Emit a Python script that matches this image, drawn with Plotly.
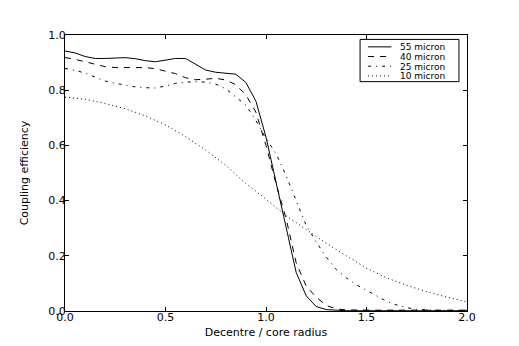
import plotly.graph_objects as go

# decentre / core radius
x_fine = [0.0, 0.05, 0.1, 0.15, 0.2, 0.25, 0.3, 0.35, 0.4, 0.45, 0.5, 0.55, 0.6, 0.65,
          0.7, 0.75, 0.8, 0.85, 0.9, 0.95, 1.0, 1.05, 1.1, 1.15, 1.2, 1.25, 1.3, 1.35,
          1.4, 1.45, 1.5, 1.55, 1.6, 1.65, 1.7, 1.75, 1.8, 1.85, 1.9, 1.95, 2.0]
x_coarse = [0.0, 0.1, 0.2, 0.3, 0.4, 0.5, 0.6, 0.7, 0.8, 0.9, 1.0, 1.1, 1.2, 1.3,
            1.4, 1.5, 1.6, 1.7, 1.8, 1.9, 2.0]

eff_55 = [0.942, 0.935, 0.922, 0.915, 0.915, 0.917, 0.918, 0.914, 0.907, 0.903, 0.908,
          0.915, 0.915, 0.895, 0.873, 0.865, 0.862, 0.858, 0.828, 0.76, 0.63, 0.47,
          0.30, 0.14, 0.055, 0.016, 0.005, 0.002, 0.001, 0.001, 0.001, 0.001, 0.001,
          0.001, 0.001, 0.001, 0.001, 0.001, 0.001, 0.001, 0.001]
eff_40 = [0.918, 0.912, 0.903, 0.893, 0.885, 0.882, 0.882, 0.883, 0.882, 0.878, 0.87,
          0.86, 0.845, 0.838, 0.84, 0.843, 0.837, 0.82, 0.783, 0.72, 0.60, 0.46,
          0.335, 0.175, 0.09, 0.05, 0.02, 0.007, 0.004, 0.003, 0.003, 0.003, 0.003,
          0.003, 0.003, 0.003, 0.003, 0.003, 0.003, 0.003, 0.003]
eff_25 = [0.879, 0.872, 0.862, 0.848, 0.833, 0.825, 0.819, 0.812, 0.809, 0.808, 0.815,
          0.825, 0.829, 0.831, 0.829, 0.822, 0.805, 0.776, 0.746, 0.69, 0.625, 0.57,
          0.49, 0.40, 0.31, 0.25, 0.195, 0.15, 0.12, 0.095, 0.075, 0.052, 0.035,
          0.022, 0.012, 0.006, 0.003, 0.002, 0.002, 0.002, 0.002]
eff_10 = [0.775, 0.767, 0.752, 0.733, 0.707, 0.674, 0.632, 0.583, 0.528, 0.462, 0.405,
          0.345, 0.295, 0.245, 0.2, 0.155, 0.12, 0.093, 0.07, 0.05, 0.033]

names = ["55 micron", "40 micron", "25 micron", "10 micron"]
dashes = ["solid", "6px,6px", "3px,5px,1px,5px", "1px,3px"]

font = "DejaVu Sans, Verdana, sans-serif"

fig = go.Figure()
for xs, ys, name, dash in zip([x_fine, x_fine, x_fine, x_coarse],
                              [eff_55, eff_40, eff_25, eff_10], names, dashes):
    fig.add_trace(go.Scatter(x=xs, y=ys, mode="lines", name=name, showlegend=False,
                             line=dict(color="black", width=1, dash=dash)))

# compact matplotlib-style legend box (paper coords)
fig.add_shape(type="rect", xref="paper", yref="paper", x0=0.734, x1=0.98, y0=0.831, y1=0.984,
              line=dict(color="black", width=1), fillcolor="white", layer="above")
row_y = [0.957, 0.922, 0.887, 0.852]
for name, dash, yy in zip(names, dashes, row_y):
    fig.add_shape(type="line", xref="paper", yref="paper", x0=0.754, x1=0.812, y0=yy, y1=yy,
                  line=dict(color="black", width=1, dash=dash), layer="above")
    fig.add_annotation(xref="paper", yref="paper", x=0.83, y=yy, text=name, showarrow=False,
                       xanchor="left", yanchor="middle", height=9, borderpad=0,
                       font=dict(family=font, size=9, color="black"))

axis_common = dict(showline=True, linecolor="black", linewidth=1, mirror="allticks",
                   ticks="inside", ticklen=4, tickcolor="black", showgrid=False,
                   zeroline=False, automargin=False,
                   tickfont=dict(family=font, size=11, color="black"))

# page body adds an 8px offset, so the figure is trimmed by that much
fig.update_layout(
    width=511, height=338,
    margin=dict(l=57, r=52, t=27, b=35),
    paper_bgcolor="white", plot_bgcolor="white",
    font=dict(family=font, color="black"),
    xaxis=dict(range=[0, 2], dtick=0.5, tickformat=".1f", ticklabelstandoff=-4,
               title=dict(text="Decentre / core radius", font=dict(size=11), standoff=5),
               **axis_common),
    yaxis=dict(range=[0, 1], dtick=0.2, tickformat=".1f", ticklabelstandoff=-4,
               title=dict(text="Coupling efficiency", font=dict(size=11), standoff=17),
               **axis_common),
    showlegend=False,
)

fig.write_html("out.html")
